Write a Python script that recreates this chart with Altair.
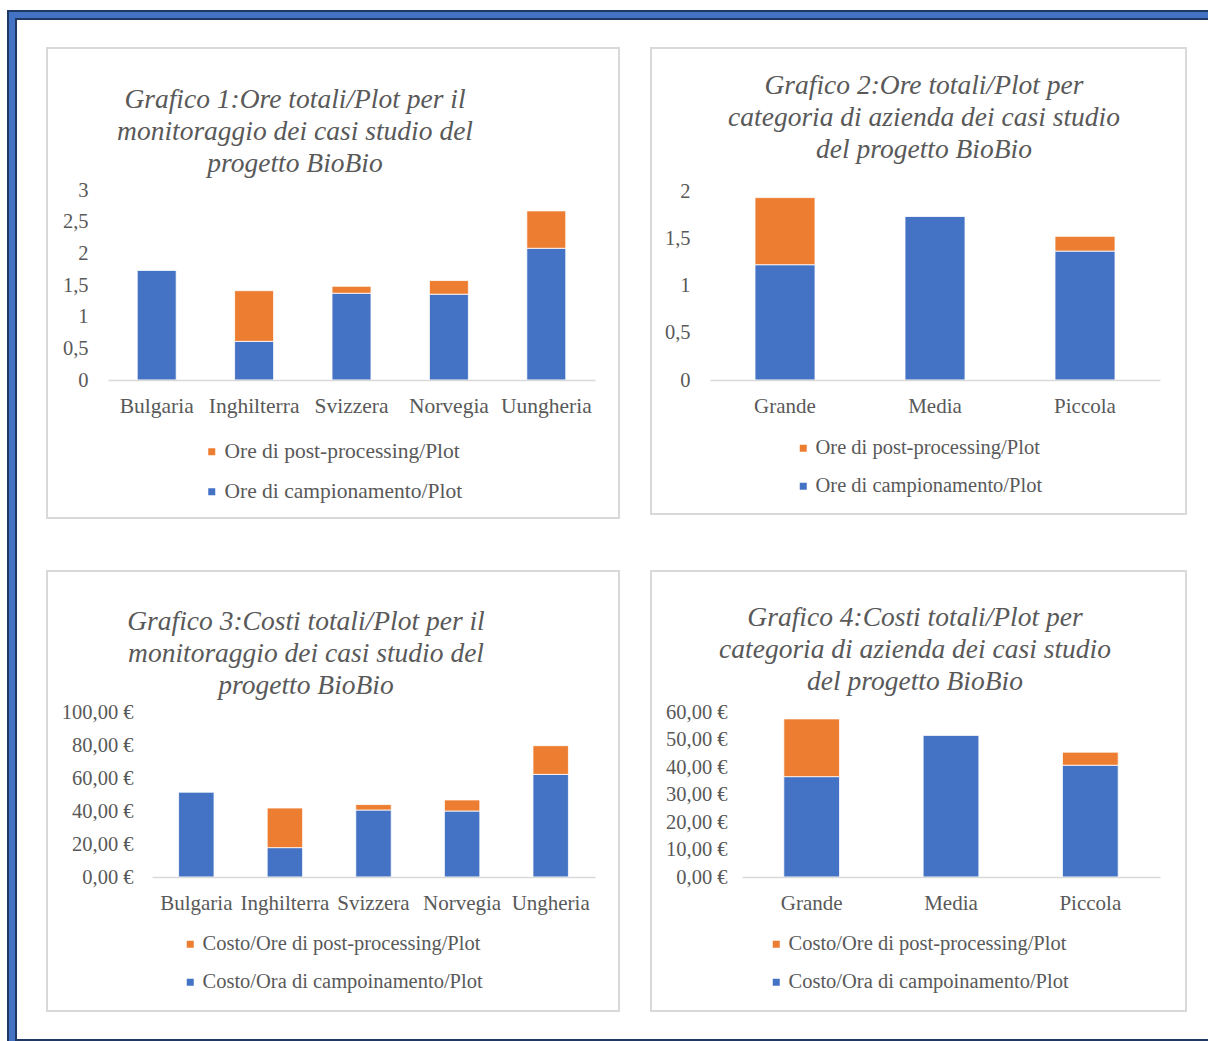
import altair as alt
import pandas as pd

W, H = 1208, 1041

# ---------------- data ----------------
paesi_1 = ["Bulgaria", "Inghilterra", "Svizzera", "Norvegia", "Uungheria"]
camp_1 = [1.73, 0.61, 1.37, 1.355, 2.08]
post_1 = [0.0, 0.80, 0.11, 0.215, 0.59]

categorie_2 = ["Grande", "Media", "Piccola"]
camp_2 = [1.22, 1.73, 1.364]
post_2 = [0.71, 0.0, 0.156]

paesi_3 = ["Bulgaria", "Inghilterra", "Svizzera", "Norvegia", "Ungheria"]
camp_3 = [51.4, 17.8, 40.6, 40.0, 62.2]
post_3 = [0.0, 24.0, 3.3, 6.7, 17.4]

categorie_4 = ["Grande", "Media", "Piccola"]
camp_4 = [36.5, 51.5, 40.65]
post_4 = [21.0, 0.0, 4.75]

serie_ore = ["Ore di post-processing/Plot", "Ore di campionamento/Plot"]
serie_costi = ["Costo/Ore di post-processing/Plot", "Costo/Ora di campoinamento/Plot"]

titoli = [
    ["Grafico 1:Ore totali/Plot per il", "monitoraggio dei casi studio del", "progetto BioBio"],
    ["Grafico 2:Ore totali/Plot per", "categoria di azienda dei casi studio", "del progetto BioBio"],
    ["Grafico 3:Costi totali/Plot per il", "monitoraggio dei casi studio del", "progetto BioBio"],
    ["Grafico 4:Costi totali/Plot per", "categoria di azienda dei casi studio", "del progetto BioBio"],
]

BLUE = "#4472C4"
ORANGE = "#ED7D31"
DARK = "#1F3864"
GRAY_TXT = "#595959"
BORDER = "#D9D9D9"
FONT = "Liberation Serif"

one = pd.DataFrame({"k": [0]})


def rect(x, y, x2, y2, fill, stroke=None, sw=0):
    kw = dict(fill=fill)
    if stroke:
        kw.update(stroke=stroke, strokeWidth=sw)
    return alt.Chart(one).mark_rect(**kw).encode(
        x=alt.value(x), x2=alt.value(x2), y=alt.value(y), y2=alt.value(y2)
    )


def panel(cats, camp, post, series, lines, box, title_xy, xl, xr, ybase, ytop,
          ymax, yticks, ylab_x, label_expr, legend_xy, xfont, legfont):
    rows = []
    for c, v in zip(cats, camp):
        if v > 0:
            rows.append({"cat": c, "serie": series[1], "val": v, "o": 0})
    for c, v in zip(cats, post):
        if v > 0:
            rows.append({"cat": c, "serie": series[0], "val": v, "o": 1})
    df = pd.DataFrame(rows)

    border = rect(box[0], box[1], box[2], box[3], "white", BORDER, 2)

    title = alt.Chart(one).mark_text(
        text=lines, font=FONT, fontStyle="italic", fontSize=27.5, color=GRAY_TXT,
        align="center", baseline="middle", lineHeight=32,
    ).encode(x=alt.value(title_xy[0]), y=alt.value(title_xy[1]))

    bars = alt.Chart(df).mark_bar(stroke="white", strokeWidth=0.8).encode(
        x=alt.X("cat:N", sort=cats,
                scale=alt.Scale(range=[xl, xr], paddingInner=0.6, paddingOuter=0.3),
                axis=alt.Axis(orient="bottom", offset=ybase - H, title=None,
                              domain=True, domainColor=BORDER, domainWidth=1.5,
                              ticks=False, tickSize=0, labelPadding=15, labelAngle=0,
                              labelFont=FONT, labelFontSize=xfont, labelColor=GRAY_TXT,
                              grid=False, zindex=1, labelLimit=0)),
        y=alt.Y("val:Q", stack="zero",
                scale=alt.Scale(domain=[0, ymax], range=[ybase, ytop], nice=False),
                axis=alt.Axis(orient="left", offset=-ylab_x, title=None,
                              domain=False, ticks=False, tickSize=0, labelPadding=0,
                              grid=False, values=yticks, labelExpr=label_expr,
                              labelFont=FONT, labelFontSize=20.5, labelColor=GRAY_TXT,
                              zindex=1, labelLimit=0)),
        color=alt.Color("serie:N",
                        scale=alt.Scale(domain=series, range=[ORANGE, BLUE]),
                        legend=alt.Legend(orient="none", legendX=legend_xy[0],
                                          legendY=legend_xy[1], direction="vertical",
                                          title=None, symbolType="square",
                                          symbolSize=49, symbolStrokeWidth=0,
                                          labelFont=FONT, labelFontSize=legfont,
                                          labelColor=GRAY_TXT, rowPadding=17,
                                          labelOffset=2, padding=0, offset=0,
                                          labelLimit=0)),
        order=alt.Order("o:Q"),
    )
    return [border, title, bars]


fmt_ore = "replace(format(datum.value, '~g'), '.', ',')"
fmt_eur = "replace(format(datum.value, '.2f'), '.', ',') + ' €'"

layers = [
    rect(7, 10, 1400, 1200, DARK),
    rect(9, 12, 1400, 1200, BLUE),
    rect(15, 18, 1400, 1200, DARK),
    rect(17, 20, 1400, 1039, "white"),
]

layers += panel(paesi_1, camp_1, post_1, serie_ore, titoli[0],
                (47, 48, 619, 518), (295, 100), 108, 595, 380, 190,
                3, [0, 0.5, 1, 1.5, 2, 2.5, 3], 88, fmt_ore, (201, 441), 21.5, 21.5)
layers += panel(categorie_2, camp_2, post_2, serie_ore, titoli[1],
                (651, 48, 1186, 514), (924, 86), 710, 1160, 380, 191,
                2, [0, 0.5, 1, 1.5, 2], 690, fmt_ore, (793, 438), 21, 20.5)
layers += panel(paesi_3, camp_3, post_3, serie_costi, titoli[2],
                (47, 571, 619, 1011), (306, 622), 152, 595, 877, 712,
                100, [0, 20, 40, 60, 80, 100], 133, fmt_eur, (180, 934), 21, 20.5)
layers += panel(categorie_4, camp_4, post_4, serie_costi, titoli[3],
                (651, 571, 1186, 1011), (915, 618), 742, 1160, 877, 712,
                60, [0, 10, 20, 30, 40, 50, 60], 727, fmt_eur, (766, 934), 21, 20.5)

chart = alt.layer(*layers).resolve_scale(
    x="independent", y="independent", color="independent"
).properties(
    width=W, height=H, padding=0, autosize=alt.AutoSizeParams(type="none"),
    background="white",
).configure_view(stroke=None)

chart.save("out.html", embed_options={"renderer": "svg", "actions": False})
